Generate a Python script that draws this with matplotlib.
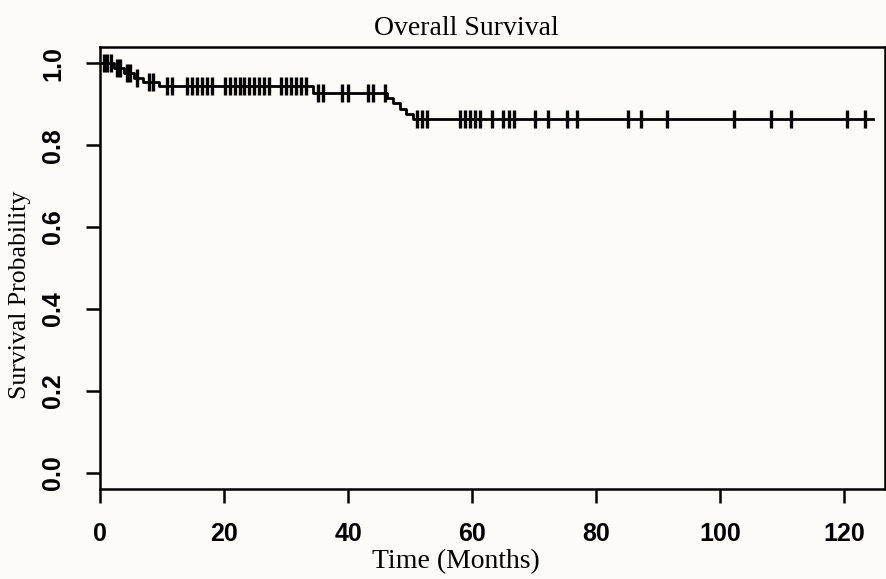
import numpy as np
import matplotlib
matplotlib.use("Agg")
import matplotlib.pyplot as plt

# ---- data ----
event_times = [2.2, 3.8, 5.5, 7.0, 9.5, 34.3, 46.3, 47.3, 48.4, 49.4, 50.4]
surv_levels = [0.988, 0.976, 0.964, 0.954, 0.944, 0.928, 0.915, 0.902, 0.889, 0.876, 0.863]
end_time = 124.6
censor_times = [0.6, 1.2, 1.7, 2.8, 3.3, 4.3, 4.9, 6.0, 7.9, 8.6,
                10.8, 11.6, 14.1, 14.9, 15.7, 16.5, 17.3, 18.1,
                20.1, 20.9, 21.7, 22.5, 23.3, 24.1, 24.8, 25.6, 26.5, 27.3,
                29.2, 30.0, 30.8, 31.6, 32.4, 33.2, 35.2, 36.0, 39.1, 40.0,
                43.2, 44.0, 46.0, 51.1, 51.9, 52.7, 58.0, 58.8, 59.6, 60.4,
                61.3, 63.2, 65.0, 65.9, 66.7, 70.1, 72.2, 75.3, 77.0, 85.2,
                87.2, 91.4, 102.3, 108.2, 111.4, 120.4, 123.4]
x_ticks = [0, 20, 40, 60, 80, 100, 120]
y_ticks = [0.0, 0.2, 0.4, 0.6, 0.8, 1.0]
title = "Overall Survival"
xlabel = "Time (Months)"
ylabel = "Survival Probability"

# ---- figure ----
bg = "#FCFBF8"
fig = plt.figure(figsize=(8.87, 5.79), dpi=100, facecolor=bg)
ax = fig.add_axes([100/887, 1 - 489/579, 785/887, 442/579], facecolor=bg)

t = np.array([0.0] + event_times + [end_time])
s = np.array([1.0] + surv_levels + [surv_levels[-1]])
ax.step(t, s, where="post", color="black", lw=2.0)

ct = np.array(censor_times)
idx = np.searchsorted(t, ct, side="right") - 1
cs = s[idx]
ax.plot(ct, cs, linestyle="none", marker="|", markersize=13,
        markeredgewidth=2.4, color="black")

ax.set_xlim(0, 126.6)
ax.set_ylim(-0.04, 1.04)
ax.set_xticks(x_ticks)
ax.set_yticks(y_ticks)
ax.set_xticklabels([str(v) for v in x_ticks])
ax.set_yticklabels(["%.1f" % v for v in y_ticks])

for sp in ax.spines.values():
    sp.set_linewidth(1.8)
    sp.set_color("black")

ax.tick_params(axis="both", direction="out", length=10, width=1.8, color="black")
ax.tick_params(axis="x", pad=14)
ax.tick_params(axis="y", pad=15)
for lab in ax.get_xticklabels():
    lab.set_fontfamily("Liberation Sans")
    lab.set_fontsize(18)
    lab.set_fontweight("bold")
for lab in ax.get_yticklabels():
    lab.set_fontfamily("Liberation Sans")
    lab.set_fontsize(18)
    lab.set_fontweight("bold")
    lab.set_rotation(90)
    lab.set_va("center")

fig.text(466/887, 1 - 35/579, title, family="Liberation Serif", fontsize=20,
         ha="center", va="baseline")
fig.text(456/887, 1 - 568/579, xlabel, family="Liberation Serif", fontsize=20,
         ha="center", va="baseline")
fig.text(20/887, 1 - 295/579, ylabel, family="Liberation Serif", fontsize=18.5,
         ha="center", va="center", rotation=90)

fig.savefig("out.png", dpi=100, facecolor=bg)
